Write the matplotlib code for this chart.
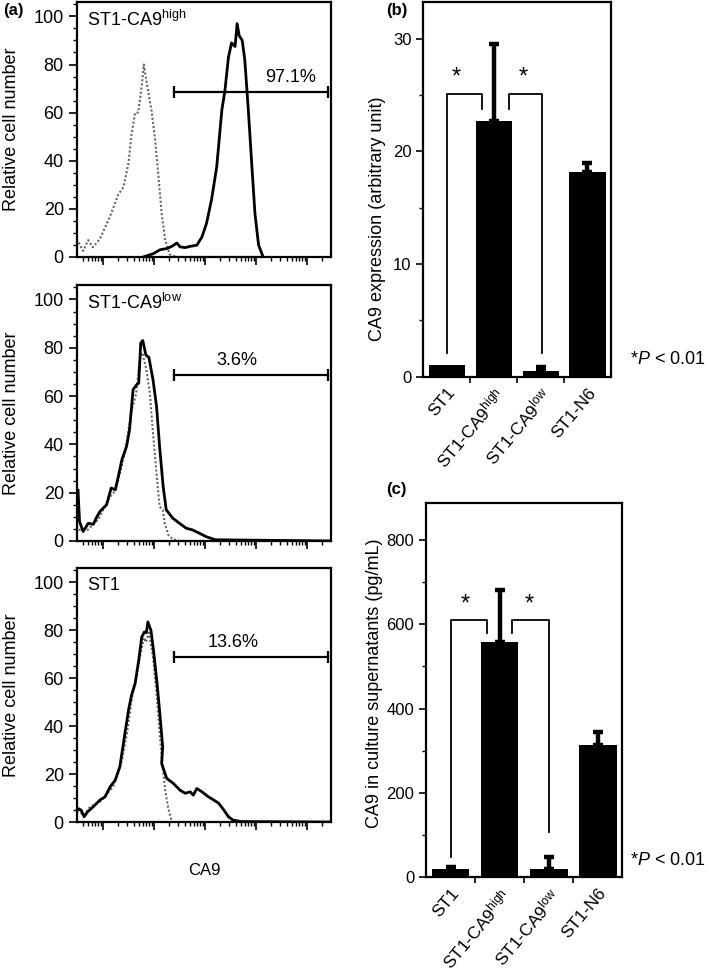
import numpy as np
import matplotlib
matplotlib.use('Agg')
import matplotlib.pyplot as plt
from matplotlib.ticker import MultipleLocator, LogLocator, NullFormatter, FixedLocator

plt.rcParams['font.family'] = ['Liberation Sans', 'DejaVu Sans']
plt.rcParams['mathtext.fontset'] = 'custom'
plt.rcParams['mathtext.rm'] = 'Liberation Sans'
plt.rcParams['mathtext.it'] = 'Liberation Sans:italic'

# ---- panel (a): histograms, x given as log10 of CA9 intensity ----
high_ctrl_x = [0.52, 0.61, 0.71, 0.80, 0.94, 1.14, 1.30, 1.40, 1.50, 1.56, 1.63, 1.69, 1.76,
               1.80, 1.86, 1.95, 2.02, 2.09, 2.15, 2.22, 2.31, 2.45, 4.10]
high_ctrl_y = [6, 2.5, 7, 4, 7.5, 17, 26, 29, 39, 51, 60, 60, 71,
               80, 72, 61, 49, 33, 18, 7, 1, 0, 0]
high_x = [1.79, 1.99, 2.12, 2.25, 2.35, 2.45, 2.51, 2.61, 2.71, 2.84, 2.94, 3.03, 3.13, 3.23,
          3.33, 3.39, 3.46, 3.52, 3.59, 3.63, 3.67, 3.73, 3.78, 3.85, 3.92, 3.98, 4.05, 4.14]
high_y = [0, 1.4, 3, 3.5, 4.4, 5.8, 4.2, 3.9, 4.4, 4.9, 8.3, 14, 24, 37.5,
          61, 69, 83, 89, 87.5, 97, 92, 90, 82, 61, 37.5, 18, 5, 0]

low_ctrl_x = [0.52, 0.70, 0.90, 1.14, 1.25, 1.35, 1.45, 1.55, 1.65, 1.72, 1.77, 1.85,
              1.92, 1.98, 2.05, 2.11, 2.17, 2.21, 2.28, 2.37, 2.50, 5.45]
low_ctrl_y = [4.6, 4.6, 8.7, 18.4, 21, 29.5, 39, 53, 61, 75, 78, 71,
              61, 44.7, 28, 14.2, 12.9, 7.3, 2.5, 0.7, 0, 0]
low_x = [0.51, 0.54, 0.61, 0.71, 0.81, 0.88, 0.94, 1.07, 1.16, 1.24, 1.30, 1.37, 1.46,
         1.52, 1.59, 1.66, 1.70, 1.74, 1.78, 1.84, 1.90, 1.98, 2.05, 2.11, 2.18, 2.24,
         2.37, 2.50, 2.63, 2.75, 2.89, 3.02, 3.20, 5.45]
low_y = [21, 8, 3.9, 7.3, 6.9, 10, 12.2, 15, 21.9, 21.2, 26.7, 33.6, 39,
         46, 62.7, 64.7, 65.4, 82, 83, 77, 76, 66.8, 55.7, 39, 22.5, 12.9,
         9.4, 7.3, 5.3, 4.6, 3.2, 1.8, 0.5, 0]

st1_ctrl_x = [0.50, 0.62, 0.75, 0.94, 1.20, 1.37, 1.47, 1.57, 1.70, 1.80, 1.84, 1.90,
              1.98, 2.06, 2.11, 2.16, 2.22, 2.28, 2.35, 5.45]
st1_ctrl_y = [5, 2.8, 6.4, 8.5, 14.7, 25.8, 37, 52, 66, 77, 75, 79,
              69, 51, 37, 24.8, 13.3, 5.7, 0, 0]
st1_x = [0.50, 0.57, 0.63, 0.70, 0.81, 0.94, 1.04, 1.14, 1.24, 1.33, 1.35, 1.43, 1.50,
         1.56, 1.63, 1.70, 1.76, 1.81, 1.85, 1.88, 1.94, 1.99, 2.06, 2.12, 2.17, 2.15,
         2.25, 2.38, 2.51, 2.61, 2.71, 2.77, 2.84, 2.94, 3.07, 3.17, 3.27, 3.37, 3.46,
         3.55, 3.70, 5.45]
st1_y = [5.7, 5, 2.2, 4.3, 6.4, 9.2, 10.5, 14.7, 17.5, 23, 25.8, 37, 46.7,
         53, 57.8, 67.5, 77.2, 79.3, 79, 83.5, 80, 71.7, 57.8, 43.9, 31.4, 24.4,
         18.2, 16.1, 13.3, 12, 12.6, 11.2, 14, 12.6, 10.5, 9.2, 7.8, 5, 2.2,
         0.8, 0.2, 0]

hist_names = ['ST1-CA9$^{\\mathrm{high}}$', 'ST1-CA9$^{\\mathrm{low}}$', 'ST1']
hist_pct = ['97.1%', '3.6%', '13.6%']
gate_lo = [2.39, 2.39, 2.39]
gate_hi = [5.41, 5.41, 5.41]
gate_y = [68.5, 68.9, 68.9]
ctrl_xs = [high_ctrl_x, low_ctrl_x, st1_ctrl_x]
ctrl_ys = [high_ctrl_y, low_ctrl_y, st1_ctrl_y]
samp_xs = [high_x, low_x, st1_x]
samp_ys = [high_y, low_y, st1_y]

# ---- panels (b) and (c): bar charts ----
groups = ['ST1', 'ST1-CA9$^{\\mathrm{high}}$', 'ST1-CA9$^{\\mathrm{low}}$', 'ST1-N6']
expr_mean = [1.0, 22.7, 0.55, 18.2]
expr_err = [0.0, 6.8, 0.3, 0.8]
sup_mean = [19, 559, 19, 314]
sup_err = [6, 122, 30, 30]

fig = plt.figure(figsize=(7.09, 9.8), dpi=100)

a_boxes = [[0.1086, 0.7378, 0.3582, 0.2602],
           [0.1086, 0.4480, 0.3582, 0.2612],
           [0.1086, 0.1612, 0.3582, 0.2592]]
pct_pos = [4.67, 3.63, 3.55]

for i in range(3):
    ax = fig.add_axes(a_boxes[i])
    cx = 10 ** np.array(ctrl_xs[i])
    sx = 10 ** np.array(samp_xs[i])
    ax.plot(cx, ctrl_ys[i], color='#666666', ls=(0, (1.0, 1.0)), lw=1.5)
    ax.plot(sx, samp_ys[i], color='black', lw=2.0)
    ax.plot([10 ** gate_lo[i], 10 ** gate_hi[i]], [gate_y[i], gate_y[i]], color='black',
            lw=1.6, marker='|', markersize=9, markeredgewidth=1.6)
    ax.text(10 ** pct_pos[i], gate_y[i] + 2.5, hist_pct[i], ha='center', va='bottom', fontsize=13)
    ax.text(10 ** 0.69, 98.5, hist_names[i], ha='left', va='center', fontsize=13)
    ax.set_xscale('log')
    ax.set_xlim(10 ** 0.49, 10 ** 5.47)
    ax.set_ylim(0, 106)
    ax.xaxis.set_major_locator(LogLocator(base=10, numticks=10))
    ax.xaxis.set_minor_locator(LogLocator(base=10, subs=np.arange(2, 10), numticks=100))
    ax.xaxis.set_major_formatter(NullFormatter())
    ax.xaxis.set_minor_formatter(NullFormatter())
    ax.yaxis.set_major_locator(MultipleLocator(20))
    ax.yaxis.set_minor_locator(MultipleLocator(5))
    ax.tick_params(axis='both', which='major', direction='out', length=6, width=1.2, labelsize=13)
    ax.tick_params(axis='both', which='minor', direction='out', length=3, width=1.0)
    for s in ax.spines.values():
        s.set_linewidth(1.6)
    ax.set_ylabel('Relative cell number', fontsize=13)
    ax.yaxis.set_label_coords(-0.225, 0.5)
    if i == 2:
        ax.set_xlabel('CA9', fontsize=12, labelpad=20)


def bar_panel(box, means, errs, ylim, major, minor, ylabel, brackets, stars, lab_x, lab_y):
    ax = fig.add_axes(box)
    x = np.arange(len(groups))
    ax.bar(x, means, width=0.77, color='black')
    m = np.array(errs) > 0
    ax.errorbar(x[m], np.array(means)[m], yerr=[np.zeros(m.sum()), np.array(errs)[m]],
                fmt='none', ecolor='black', elinewidth=3.2, capsize=3.8, capthick=3.2)
    for xs, ys in brackets:
        ax.plot(xs, ys, color='black', lw=1.3)
    for sx, sy in stars:
        ax.text(sx, sy, '*', ha='center', va='center', fontsize=17)
    ax.set_xlim(-0.5, 3.5)
    ax.set_ylim(0, ylim)
    ax.yaxis.set_major_locator(MultipleLocator(major))
    ax.yaxis.set_minor_locator(MultipleLocator(minor))
    ax.set_xticks(x)
    ax.set_xticklabels(groups, rotation=50, ha='right', va='top', rotation_mode='anchor',
                       fontsize=12.5)
    ax.xaxis.set_minor_locator(FixedLocator([0.5, 1.5, 2.5]))
    ax.tick_params(axis='x', which='major', length=0, pad=6)
    ax.tick_params(axis='x', which='minor', direction='out', length=4, width=1.2)
    ax.tick_params(axis='y', which='major', direction='out', length=5, width=1.2, labelsize=12)
    ax.tick_params(axis='y', which='minor', direction='out', length=3, width=1.0)
    for s in ax.spines.values():
        s.set_linewidth(1.6)
    ax.set_ylabel(ylabel, fontsize=13)
    ax.yaxis.set_label_coords(lab_x, lab_y)
    return ax


bar_panel([0.597, 0.6156, 0.2647, 0.3827], expr_mean, expr_err, 33.3, 10, 5,
          'CA9 expression (arbitrary unit)',
          [([0, 0, 0.745, 0.745], [2.1, 25.1, 25.1, 23.8]),
           ([1.33, 1.33, 2.02, 2.02], [23.8, 25.1, 25.1, 2.1])],
          [(0.21, 26.6), (1.63, 26.6)], -0.2, 0.42)

bar_panel([0.6008, 0.1048, 0.2769, 0.3816], sup_mean, sup_err, 887, 200, 100,
          'CA9 in culture supernatants (pg/mL)',
          [([0, 0, 0.736, 0.736], [49, 610, 610, 579]),
           ([1.245, 1.245, 2.01, 2.01], [579, 610, 610, 108])],
          [(0.29, 648), (1.6, 648)], -0.22, 0.52)

fig.text(630 / 709, 1 - 360 / 980, '*$P$ < 0.01', fontsize=13, va='center', ha='left')
fig.text(630 / 709, 1 - 860 / 980, '*$P$ < 0.01', fontsize=13, va='center', ha='left')

fig.text(3 / 709, 1 - 10 / 980, '(a)', fontsize=12, fontweight='bold', va='center')
fig.text(386 / 709, 1 - 10 / 980, '(b)', fontsize=12, fontweight='bold', va='center')
fig.text(386 / 709, 1 - 489 / 980, '(c)', fontsize=12, fontweight='bold', va='center')

fig.savefig('out.png', dpi=100)
